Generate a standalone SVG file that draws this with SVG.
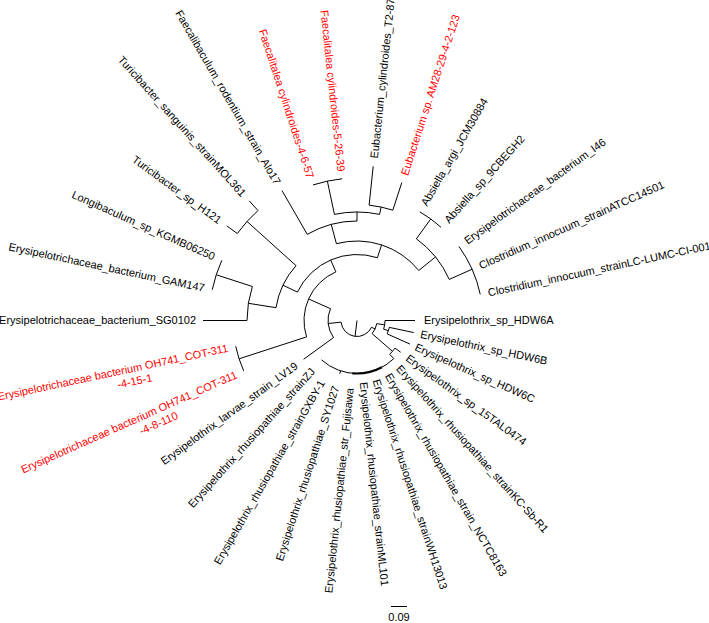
<svg xmlns="http://www.w3.org/2000/svg" width="709" height="623" viewBox="0 0 709 623">
<style>
.b{fill:none;stroke:#000;stroke-width:1}
.t{font-family:"Liberation Sans",Arial,sans-serif;font-size:11px;fill:#000}
.r{fill:#ff0000}
.e{text-anchor:end}
</style>
<rect width="709" height="623" fill="#fff"/>
<g id="connectors" class="b">
<path d="M357,320.5 L355.05,336.38"/>
<path d="M371.5,327.26 A16,16 0 0 1 341.09,322.17"/>
<path d="M371.5,327.26 L375.13,328.95"/>
<path d="M376.75,323.63 A20,20 0 0 1 372.09,333.62"/>
<path d="M376.75,323.63 L384.66,324.88"/>
<path d="M385,320.5 A28,28 0 0 1 383.63,329.15"/>
<path d="M385,320.5 L415,320.5"/>
<path d="M383.63,329.15 L388.39,330.7"/>
<path d="M389.28,327.36 A33,33 0 0 1 387.15,333.92"/>
<path d="M389.28,327.36 L413.73,332.56"/>
<path d="M387.15,333.92 L409.98,344.09"/>
<path d="M372.09,333.62 L392.47,351.34"/>
<path d="M395.02,348.13 A47,47 0 0 1 389.65,354.31"/>
<path d="M395.02,348.13 L400.69,352.24"/>
<path d="M389.65,354.31 L393.82,358.62"/>
<path d="M393.82,358.62 A53,53 0 0 1 321.54,359.88"/>
<path d="M381.88,367.29 A53,53 0 0 1 352.38,373.3" stroke-width="2.2"/>
<path d="M340.62,370.91 L339.7,373.76"/>
<path d="M341.09,322.17 L328.16,323.53"/>
<path d="M333.54,337.55 A29,29 0 0 1 330.51,308.71"/>
<path d="M333.54,337.55 L303.61,359.29"/>
<path d="M330.51,308.71 L308.58,298.94"/>
<path d="M306.59,336.88 A53,53 0 0 1 335.87,271.89"/>
<path d="M306.59,336.88 L239.07,358.82"/>
<path d="M243.73,370.93 A124,124 0 0 1 235.71,346.28"/>
<path d="M335.87,271.89 L330.69,260.0"/>
<path d="M297.43,292.09 A66,66 0 0 1 377.39,257.73"/>
<path d="M297.43,292.09 L282.99,285.2"/>
<path d="M276.01,307.67 A82,82 0 0 1 296.07,265.63"/>
<path d="M276.01,307.67 L248.35,303.3"/>
<path d="M247,320.5 A110,110 0 0 1 252.38,286.51"/>
<path d="M247,320.5 L203,320.5"/>
<path d="M252.38,286.51 L216.24,274.77"/>
<path d="M212.24,289.73 A148,148 0 0 1 221.8,260.31"/>
<path d="M296.07,265.63 L247.02,221.47"/>
<path d="M237.27,233.51 A148,148 0 0 1 257.97,210.52"/>
<path d="M237.27,233.51 L226.75,225.87"/>
<path d="M257.97,210.52 L249.27,200.86"/>
<path d="M377.39,257.73 L381.57,244.89"/>
<path d="M336.42,243.71 A79.5,79.5 0 0 1 418.78,270.47"/>
<path d="M336.42,243.71 L331.25,224.39"/>
<path d="M307.25,234.33 A99.5,99.5 0 0 1 357,221"/>
<path d="M307.25,234.33 L282,190.6"/>
<path d="M357,221 L357,212"/>
<path d="M334.44,214.38 A108.5,108.5 0 0 1 379.56,214.38"/>
<path d="M334.44,214.38 L327.37,181.12"/>
<path d="M312.97,184.97 A142.5,142.5 0 0 1 342.11,178.78"/>
<path d="M379.56,214.38 L381.12,207.04"/>
<path d="M369.12,205.14 A116,116 0 0 1 392.84,210.17"/>
<path d="M369.12,205.14 L373.2,166.35"/>
<path d="M392.84,210.17 L401.81,182.59"/>
<path d="M418.78,270.47 L435.49,256.94"/>
<path d="M416.37,238.79 A101,101 0 0 1 449.26,279.42"/>
<path d="M416.37,238.79 L430.77,218.97"/>
<path d="M419.75,211.81 A125.5,125.5 0 0 1 440.97,227.24"/>
<path d="M449.26,279.42 L472.1,269.25"/>
<path d="M458.93,246.44 A126,126 0 0 1 480.24,294.3"/>
<path d="M391,606.5 L407,606.5"/>
</g>
<g id="HDW6A"><text class="t" transform="translate(424,320.5) rotate(0)" dy="0.35em">Erysipelothrix_sp_HDW6A</text></g>
<g id="HDW6B"><text class="t" transform="translate(420.58,334.01) rotate(12)" dy="0.35em">Erysipelothrix_sp_HDW6B</text></g>
<g id="HDW6C"><text class="t" transform="translate(415.46,346.53) rotate(24)" dy="0.35em">Erysipelothrix_sp_HDW6C</text></g>
<g id="TAL0474"><text class="t" transform="translate(407.16,356.94) rotate(36)" dy="0.35em">Erysipelothrix_sp_15TAL0474</text></g>
<g id="KCSbR1"><text class="t" transform="translate(398.48,366.57) rotate(48)" dy="0.35em">Erysipelothrix_rhusiopathiae_strainKC-Sb-R1</text></g>
<g id="NCTC8163"><text class="t" transform="translate(388,374.19) rotate(60)" dy="0.35em">Erysipelothrix_rhusiopathiae_strain_NCTC8163</text></g>
<g id="WH13013"><text class="t" transform="translate(376.16,379.47) rotate(72)" dy="0.35em">Erysipelothrix_rhusiopathiae_strainWH13013</text></g>
<g id="ML101"><text class="t" transform="translate(363.48,382.16) rotate(84)" dy="0.35em">Erysipelothrix_rhusiopathiae_strainML101</text></g>
<g id="Fujisawa"><text class="t e" transform="translate(349.89,388.13) rotate(-84)" dy="0.35em">Erysipelothrix_rhusiopathiae_str_Fujisawa</text></g>
<g id="SY1027"><text class="t e" transform="translate(335.68,386.13) rotate(-72)" dy="0.35em">Erysipelothrix_rhusiopathiae_SY1027</text></g>
<g id="GXBY1"><text class="t e" transform="translate(322,381.12) rotate(-60)" dy="0.35em">Erysipelothrix_rhusiopathiae_strainGXBY-1</text></g>
<g id="ZJ"><text class="t e" transform="translate(312.84,369.54) rotate(-48)" dy="0.35em">Erysipelothrix_rhusiopathiae_strainZJ</text></g>
<g id="LV19"><text class="t e" transform="translate(296.32,364.59) rotate(-36)" dy="0.35em">Erysipelothrix_larvae_strain_LV19</text></g>
<g id="OH741_4_8_110" transform="translate(236.42,374.19) rotate(-24)"><text class="t r e" dy="0.35em">Erysipelotrichaceae bacterium OH741_COT-311</text><text class="t r" x="-91" y="13" text-anchor="middle" dy="0.35em">-4-8-110</text></g>
<g id="OH741_4_15_1" transform="translate(227.89,347.94) rotate(-12)"><text class="t r e" dy="0.35em">Erysipelotrichaceae bacterium OH741_COT-311</text><text class="t r" x="-98" y="13" text-anchor="middle" dy="0.35em">-4-15-1</text></g>
<g id="SG0102"><text class="t e" transform="translate(196,320.5) rotate(0)" dy="0.35em">Erysipelotrichaceae_bacterium_SG0102</text></g>
<g id="GAM147"><text class="t e" transform="translate(204.42,288.07) rotate(12)" dy="0.35em">Erysipelotrichaceae_bacterium_GAM147</text></g>
<g id="KGMB06250"><text class="t e" transform="translate(214.49,257.05) rotate(24)" dy="0.35em">Longibaculum_sp_KGMB06250</text></g>
<g id="H121"><text class="t e" transform="translate(220.28,221.16) rotate(36)" dy="0.35em">Turicibacter_sp_H121</text></g>
<g id="MOL361"><text class="t e" transform="translate(243.92,194.92) rotate(48)" dy="0.35em">Turicibacter_sanguinis_strainMOL361</text></g>
<g id="Alo17"><text class="t e" transform="translate(278,183.67) rotate(60)" dy="0.35em">Faecalibaculum_rodentium_strain_Alo17</text></g>
<g id="Faec_4_6_57"><text class="t r e" transform="translate(310.65,177.84) rotate(72)" dy="0.35em">Faecalitalea cylindroides-4-6-57</text></g>
<g id="Faec_5_26_39"><text class="t r e" transform="translate(341.32,171.32) rotate(84)" dy="0.35em">Faecalitalea cylindroides-5-26-39</text></g>
<g id="T2_87"><text class="t" transform="translate(374.03,158.4) rotate(-84)" dy="0.35em">Eubacterium_cylindroides_T2-87</text></g>
<g id="AM28"><text class="t r" transform="translate(404.28,174.98) rotate(-72)" dy="0.35em">Eubacterium sp. AM28-29-4-2-123</text></g>
<g id="JCM30884"><text class="t" transform="translate(423.75,204.89) rotate(-60)" dy="0.35em">Absiella_argi_JCM30884</text></g>
<g id="9CBEGH2"><text class="t" transform="translate(446.32,221.3) rotate(-48)" dy="0.35em">Absiella_sp_9CBEGH2</text></g>
<g id="I46"><text class="t" transform="translate(465.41,241.73) rotate(-36)" dy="0.35em">Erysipelotrichaceae_bacterium_I46</text></g>
<g id="ATCC14501"><text class="t" transform="translate(479.41,266) rotate(-24)" dy="0.35em">Clostridium_innocuum_strainATCC14501</text></g>
<g id="LCLUMC"><text class="t" transform="translate(488.07,292.64) rotate(-12)" dy="0.35em">Clostridium_innocuum_strainLC-LUMC-CI-001</text></g>
<g id="scale"><text class="t" x="399" y="621" text-anchor="middle" font-size="10">0.09</text></g>
</svg>
